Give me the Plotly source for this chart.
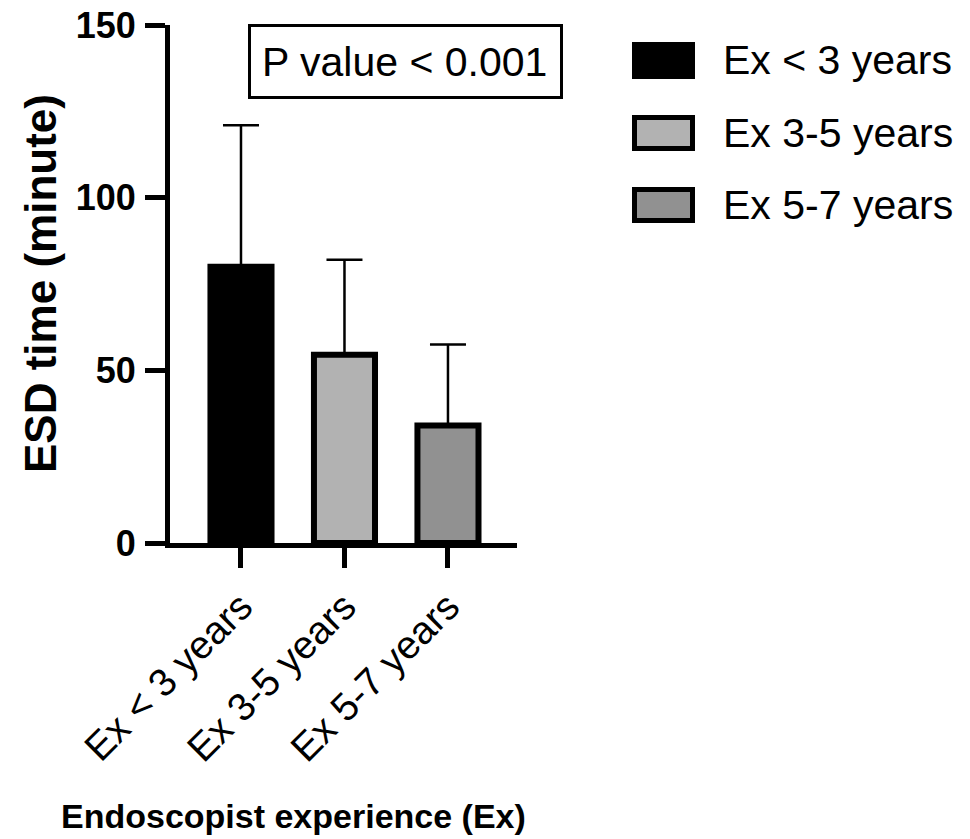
import plotly.graph_objects as go

# ---- data ----
categories = ["Ex < 3 years", "Ex 3-5 years", "Ex 5-7 years"]
mean_minutes = [80, 54.5, 34]
sd_minutes = [41, 27.5, 23.5]
bar_colors = ["#000000", "#b2b2b2", "#919191"]
y_ticks = [0, 50, 100, 150]
p_text = "P value < 0.001"
x_title = "Endoscopist experience (Ex)"
y_title = "ESD time (minute)"

FONT = "Liberation Sans, Arial, Helvetica, sans-serif"
W, H = 970, 839
OFF = 8  # page body margin
L, R, T, B = 170 - OFF, 517 - OFF, 25 - OFF, 543 - OFF  # plot area in pixels


def px_x(px):
    return (px - OFF - L) / (R - L)


def px_y(py):
    return (B - (py - OFF)) / (B - T)


fig = go.Figure()
fig.add_trace(go.Bar(
    x=categories,
    y=mean_minutes,
    width=0.59,
    marker=dict(color=bar_colors, line=dict(color="black", width=6)),
    error_y=dict(type="data", symmetric=False, array=sd_minutes,
                 arrayminus=[0] * len(sd_minutes),
                 color="black", thickness=2.5, width=18),
    showlegend=False,
))

shapes = []
annotations = []

# P value box
shapes.append(dict(type="rect", xref="paper", yref="paper",
                   x0=px_x(249.5), x1=px_x(561.5), y0=px_y(97.5), y1=px_y(25.5),
                   line=dict(color="black", width=3), fillcolor="white", layer="above"))
annotations.append(dict(xref="paper", yref="paper", x=px_x(404), y=px_y(62),
                        text=p_text, showarrow=False, xanchor="center", yanchor="middle",
                        font=dict(family=FONT, size=41, color="black")))

# manual legend
row_tops = [42, 115, 187]
row_h = 36
for i, (cat, col) in enumerate(zip(categories, bar_colors)):
    y0 = row_tops[i]
    if i == 0:
        shapes.append(dict(type="rect", xref="paper", yref="paper",
                           x0=px_x(632), x1=px_x(695), y0=px_y(y0 + row_h + 1), y1=px_y(y0),
                           line=dict(color="black", width=0), fillcolor=col))
    else:
        shapes.append(dict(type="rect", xref="paper", yref="paper",
                           x0=px_x(634.5), x1=px_x(692.5), y0=px_y(y0 + row_h - 2.5), y1=px_y(y0 + 2.5),
                           line=dict(color="black", width=5), fillcolor=col))
    annotations.append(dict(xref="paper", yref="paper", x=px_x(721), y=px_y(y0 + row_h / 2),
                            text=cat, showarrow=False, xanchor="left", yanchor="middle",
                            font=dict(family=FONT, size=41, color="black")))

# axis titles
annotations.append(dict(xref="paper", yref="paper", x=px_x(293), y=px_y(816),
                        text=x_title, showarrow=False,
                        xanchor="center", yanchor="middle",
                        font=dict(family=FONT, size=34, color="black", weight="bold")))
annotations.append(dict(xref="paper", yref="paper", x=px_x(40), y=px_y(284),
                        text=y_title, showarrow=False, textangle=-90,
                        xanchor="center", yanchor="middle",
                        font=dict(family=FONT, size=44, color="black", weight="bold")))

fig.update_layout(
    width=W, height=H,
    margin=dict(l=L, r=W - R, t=T, b=H - B, pad=0, autoexpand=False),
    paper_bgcolor="white", plot_bgcolor="white",
    shapes=shapes, annotations=annotations,
)
fig.update_xaxes(
    range=[-0.686, 2.667], showline=True, linecolor="black", linewidth=5,
    ticks="outside", ticklen=20, tickwidth=5, tickcolor="black",
    tickangle=-45, tickfont=dict(family=FONT, size=39, color="black"),
    ticklabeloverflow="allow", automargin=False,
    showgrid=False, zeroline=False,
)
fig.update_yaxes(
    range=[0, 150], tickvals=y_ticks, showline=True, linecolor="black", linewidth=5,
    ticks="outside", ticklen=20, tickwidth=5, tickcolor="black",
    tickfont=dict(family=FONT, size=36, color="black", weight="bold"),
    ticklabelstandoff=2, ticklabeloverflow="allow", automargin=False,
    showgrid=False, zeroline=False,
)

fig.write_html("out.html")
